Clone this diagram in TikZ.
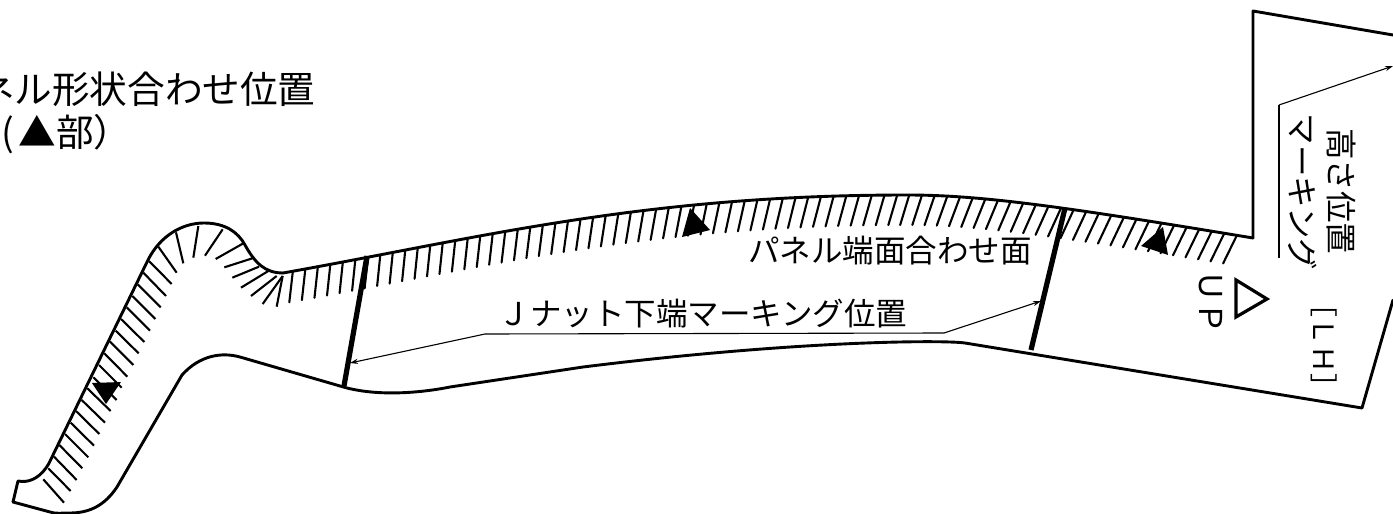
\documentclass[tikz,border=0pt]{standalone}
\usepackage{fontspec}
\setmainfont{Noto Sans CJK JP}
\usetikzlibrary{arrows.meta,decorations.markings}
\tikzset{
  outline/.style={line width=1.45pt,line join=round,line cap=round},
  hatchline/.style={line width=1.05pt},
  thickmark/.style={line width=2.6pt},
  leader/.style={line width=0.55pt},
  leaderarrow/.style={leader,-{Stealth[length=4pt,width=2.6pt]}},
  solidmark/.style={fill=black,draw=none},
  label/.style={inner sep=0pt,font=\fontsize{15.75pt}{18pt}\selectfont},
  biglabel/.style={inner sep=0pt,font=\fontsize{18.8pt}{22pt}\selectfont},
  sidelabel/.style={label,rotate=-90},
  tophatch/.style={postaction={decorate,decoration={markings,
    mark=between positions 5pt and -5pt step 6.35pt with {\draw[hatchline] (0,0) -- (-9,30);}}}},
}
\begin{document}
\begin{tikzpicture}[x=0.5pt,y=-0.5pt]
\useasboundingbox (0,0) rectangle (1393,514);
\clip (0,0) rectangle (1393,514);
% outline
\draw[outline] (13,502) -- (18,481) .. controls (28,483) and (38,479) .. (46,468)
  .. controls (49,464) and (51,459) .. (53,455) -- (148,260)
  .. controls (160,236) and (182,223) .. (204,223)
  .. controls (225,223) and (238,232) .. (245,245)
  .. controls (255,263) and (265,273) .. (283,273);
\draw[outline,tophatch] (283,273) .. controls (480,238) and (640,195) .. (907,195)
  .. controls (980,195) and (1060,206) .. (1253,238);
\draw[outline] (1253,238) -- (1253,11) -- (1393,35);
\draw[outline] (1393,300) -- (1362,408) -- (965,343)
  .. controls (945,340) and (800,340) .. (583,367)
  -- (450,387)
  .. controls (420,393) and (375,397) .. (340,386)
  -- (240,357)
  .. controls (222,352) and (200,355) .. (182,375)
  -- (117,487)
  .. controls (105,505) and (90,513) .. (70,513)
  .. controls (62,513) and (55,514) .. (50,512)
  -- (13,502);
% hatching of the left end and the bend (coordinates in 3x crop units)
\begin{scope}[shift={(0,200)},scale=1/3]
\foreach \a/\b/\c/\d in {130/838/192/908,145/805/212/873,162/770/230/840,178/735/247/805,195/702/265/772,212/668/282/737,228/633/298/702,245/600/315/668,262/565/332/633,280/532/350/600,297/495/365/563,313/460/382/530,330/425/400/495,347/392/416/460,363/357/433/426,380/322/450/392,397/288/466/357,413/253/482/322,430/218/498/288,447/183/515/252,475/140/530/218,528/97/550/190,595/78/580/173,668/88/615/167,730/130/647/177,757/175/673/202,777/200/697/233,805/213/723/263,830/228/753/288,848/228/788/312,848/228/830/320,1105/175/1092/265}
  \draw[hatchline] (\a,\b) -- (\c,\d);
\end{scope}
% thick marking lines
\coordinate (t1) at (367,256); \coordinate (b1) at (344,386);
\coordinate (t2) at (1065,208); \coordinate (b2) at (1031,350);
\draw[thickmark] (t1) -- (b1);
\draw[thickmark] (t2) -- (b2);
% solid triangles
\fill[solidmark] (92,383) -- (121,382) -- (106,404) -- cycle;
\fill[solidmark] (690,208) -- (710,230) -- (682,237) -- cycle;
\fill[solidmark] (1163,227) -- (1168,255) -- (1141,246) -- cycle;
% open triangle
\draw[line width=1.6pt,line join=miter] (1236,280) -- (1267,299) -- (1236,317) -- cycle;
% leaders
\coordinate (ja) at (350,363); \coordinate (jb) at (485,334); \coordinate (jc) at (944,333); \coordinate (jd) at (1041,301);
\draw[leaderarrow] (jb) -- (ja);
\draw[leader] (jb) -- (jc);
\draw[leaderarrow] (jc) -- (jd);
\coordinate (ha) at (1279,258); \coordinate (hb) at (1279,105); \coordinate (hc) at (1393,66);
\draw[leader] (ha) -- (hb);
\draw[leaderarrow] (hb) -- (hc);
% labels
\node[biglabel,anchor=east] (shape) at (316,89) {ネル形状合わせ位置};
\node[biglabel,anchor=west] (shapeb) at (1,134) {(\hspace{2.2pt}▲部）};
\node[label] (jnut) at (703,314) {Ｊナット下端マーキング位置};
\node[label] (face) at (890,251) {パネル端面合わせ面};
\node[sidelabel] (height) at (1341,191) {高さ位置};
\node[sidelabel] (marking) at (1303,192) {マーキング};
\node[sidelabel] (up) at (1211,302) {ＵＰ};
\node[sidelabel,font=\fontsize{14pt}{16pt}\selectfont] (lh) at (1324,345) {［ＬＨ］};
\end{tikzpicture}
\end{document}
